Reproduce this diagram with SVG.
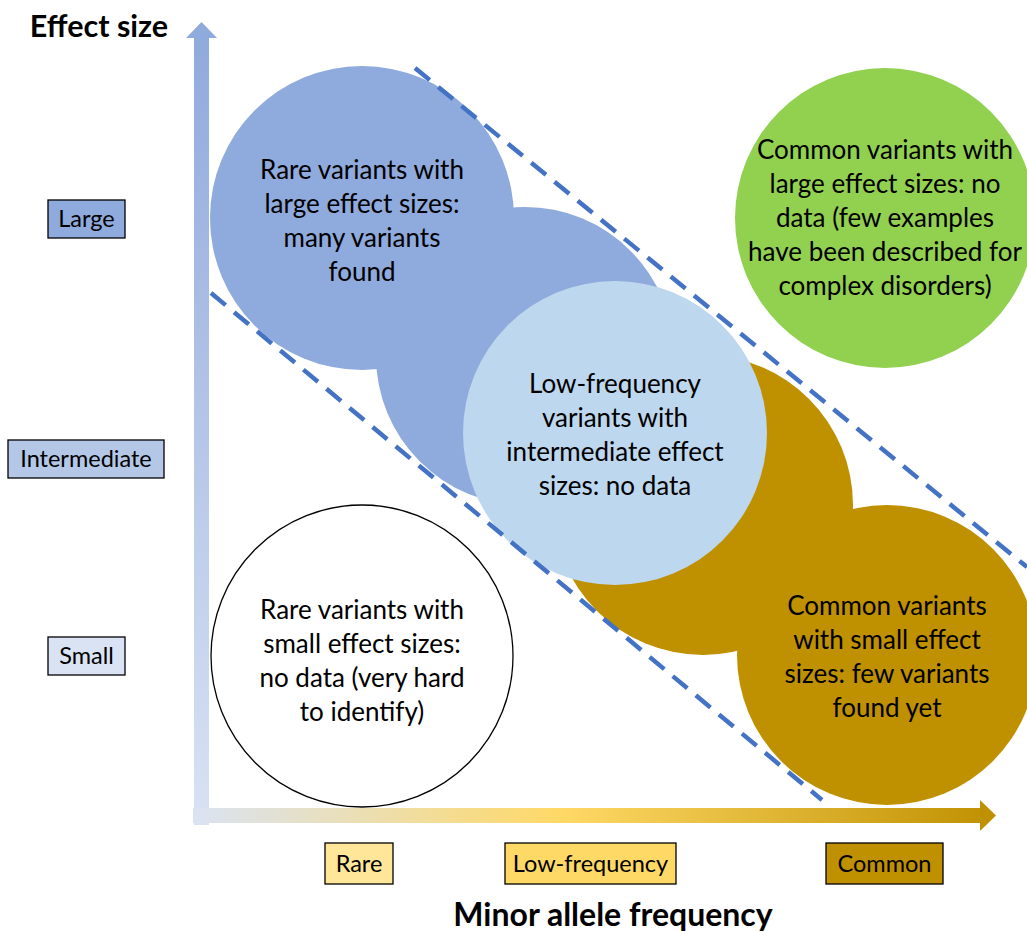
<svg xmlns="http://www.w3.org/2000/svg" width="1027" height="931" viewBox="0 0 1027 931">
<defs>
<linearGradient id="gy" x1="0" y1="0" x2="0" y2="1">
<stop offset="0" stop-color="#8faadc"/>
<stop offset="1" stop-color="#d9e2f3"/>
</linearGradient>
<linearGradient id="gx" gradientUnits="userSpaceOnUse" x1="193" y1="0" x2="996" y2="0">
<stop offset="0" stop-color="#dae3f3"/>
<stop offset="0.46" stop-color="#ffd966"/>
<stop offset="1" stop-color="#bf9000"/>
</linearGradient>
<style>
text{font-family:"Lato","Liberation Sans",sans-serif;fill:#000;text-anchor:middle}
.ct{font-size:26px}
.lb{font-size:23.5px}
.ttl{font-weight:bold}
.box{stroke:#000;stroke-width:1.3}
.dash{stroke:#4472c4;stroke-width:4.5;stroke-dasharray:19 11;fill:none}
</style>
</defs>
<rect width="1027" height="931" fill="#fff"/>
<g id="axes">
<rect x="194" y="37" width="15" height="788" fill="url(#gy)"/>
<polygon points="186,38 217,38 201.5,22" fill="#8faadc"/>
<rect x="193" y="808" width="788" height="15" fill="url(#gx)"/>
<polygon points="980,800 980,831 996,815.5" fill="#bf9000"/>
</g>
<text class="ttl" x="99" y="37" font-size="30.5">Effect size</text>
<text class="ttl" x="613" y="926" font-size="32">Minor allele frequency</text>
<g id="label-large"><rect class="box" x="48" y="200" width="77" height="38" fill="#8faadc"/><text class="lb" x="86.5" y="227">Large</text></g>
<g id="label-intermediate"><rect class="box" x="8" y="440" width="156" height="38" fill="#b4c7e7"/><text class="lb" x="86" y="467">Intermediate</text></g>
<g id="label-small"><rect class="box" x="48" y="637" width="77" height="38" fill="#dae3f3"/><text class="lb" x="86.5" y="664">Small</text></g>
<g id="label-rare"><rect class="box" x="325" y="843" width="68" height="41" fill="#ffe699"/><text class="lb" x="359" y="872">Rare</text></g>
<g id="label-lowfreq"><rect class="box" x="505" y="843" width="171" height="41" fill="#ffd966"/><text class="lb" x="590.5" y="872">Low-frequency</text></g>
<g id="label-common"><rect class="box" x="826" y="843" width="117" height="41" fill="#bf9000"/><text class="lb" x="884.5" y="872">Common</text></g>
<g id="rare-large">
<circle cx="362" cy="218" r="152" fill="#8faadc"/>
<circle cx="525" cy="356" r="149" fill="#8faadc"/>
</g>
<g id="common-small">
<circle cx="703" cy="505" r="150" fill="#bf9000"/>
<circle cx="887" cy="655" r="150" fill="#bf9000"/>
</g>
<g id="low-freq">
<circle cx="615" cy="433" r="152" fill="#bdd7ee"/>
</g>
<g id="common-large">
<circle cx="885" cy="218" r="150" fill="#92d050"/>
</g>
<g id="rare-small">
<circle cx="362" cy="656" r="151" fill="#fff" stroke="#000" stroke-width="1.3"/>
</g>
<g id="connectors">
<line class="dash" x1="415" y1="68" x2="1027" y2="567"/>
<line class="dash" x1="211" y1="293" x2="822" y2="800"/>
</g>
<g id="texts">
<text class="ct" x="362" y="179">Rare variants with</text>
<text class="ct" x="362" y="213">large effect sizes:</text>
<text class="ct" x="362" y="247">many variants</text>
<text class="ct" x="362" y="281">found</text>
<text class="ct" x="615" y="393">Low-frequency</text>
<text class="ct" x="615" y="427">variants with</text>
<text class="ct" x="615" y="461">intermediate effect</text>
<text class="ct" x="615" y="495">sizes: no data</text>
<text class="ct" x="885" y="159">Common variants with</text>
<text class="ct" x="885" y="193">large effect sizes: no</text>
<text class="ct" x="885" y="227">data (few examples</text>
<text class="ct" x="885" y="261">have been described for</text>
<text class="ct" x="885" y="295">complex disorders)</text>
<text class="ct" x="362" y="619">Rare variants with</text>
<text class="ct" x="362" y="653">small effect sizes:</text>
<text class="ct" x="362" y="687">no data (very hard</text>
<text class="ct" x="362" y="721">to identify)</text>
<text class="ct" x="887" y="615">Common variants</text>
<text class="ct" x="887" y="649">with small effect</text>
<text class="ct" x="887" y="683">sizes: few variants</text>
<text class="ct" x="887" y="717">found yet</text>
</g>
</svg>
